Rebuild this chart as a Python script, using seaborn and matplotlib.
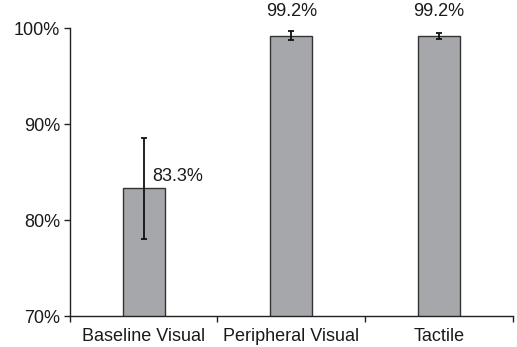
import numpy as np
import pandas as pd
import seaborn as sns
import matplotlib.pyplot as plt
from matplotlib.ticker import FixedLocator

# values
conditions = ["Baseline Visual", "Peripheral Visual", "Tactile"]
accuracy = [83.3, 99.2, 99.2]
err = [5.3, 0.45, 0.33]
labels = ["83.3%", "99.2%", "99.2%"]

df = pd.DataFrame({"condition": conditions, "accuracy": accuracy})

sns.set_style("white")
plt.rcParams["font.family"] = ["Liberation Sans", "DejaVu Sans"]

fig = plt.figure(figsize=(5.17, 3.47), dpi=100)
ax = fig.add_axes([0.135, 0.089, 0.857, 0.830])

sns.barplot(data=df, x="condition", y="accuracy", color="#a6a7aa",
            saturation=1, width=0.285, edgecolor="#333333", linewidth=1.0, ax=ax)

ax.errorbar(np.arange(len(conditions)), accuracy, yerr=err, fmt="none",
            ecolor="#111111", elinewidth=1.3, capsize=2, capthick=1.3)

# value labels
fs = 13
ax.text(0 + 0.06, accuracy[0] + 0.4, labels[0], ha="left", va="bottom", fontsize=fs, color="#1a1a1a")
for i in [1, 2]:
    ax.text(i, 100.8, labels[i], ha="center", va="bottom", fontsize=fs, color="#1a1a1a")

ax.set_ylim(70, 100)
ax.set_xlim(-0.5, 2.5)
ax.set_yticks([70, 80, 90, 100])
ax.set_yticklabels(["70%", "80%", "90%", "100%"])
ax.set_xlabel("")
ax.set_ylabel("")

for s in ["top", "right"]:
    ax.spines[s].set_visible(False)
for s in ["left", "bottom"]:
    ax.spines[s].set_color("#222222")
    ax.spines[s].set_linewidth(1.0)

ax.tick_params(axis="y", left=True, length=4, width=1, color="#222222",
               labelsize=fs, labelcolor="#1a1a1a", pad=3)
ax.tick_params(axis="x", which="major", bottom=False, labelsize=fs,
               labelcolor="#1a1a1a", pad=5)
ax.xaxis.set_minor_locator(FixedLocator([-0.5, 0.5, 1.5, 2.5]))
ax.tick_params(axis="x", which="minor", bottom=True, length=4, width=1, color="#222222")

plt.savefig("out.png", dpi=100)
